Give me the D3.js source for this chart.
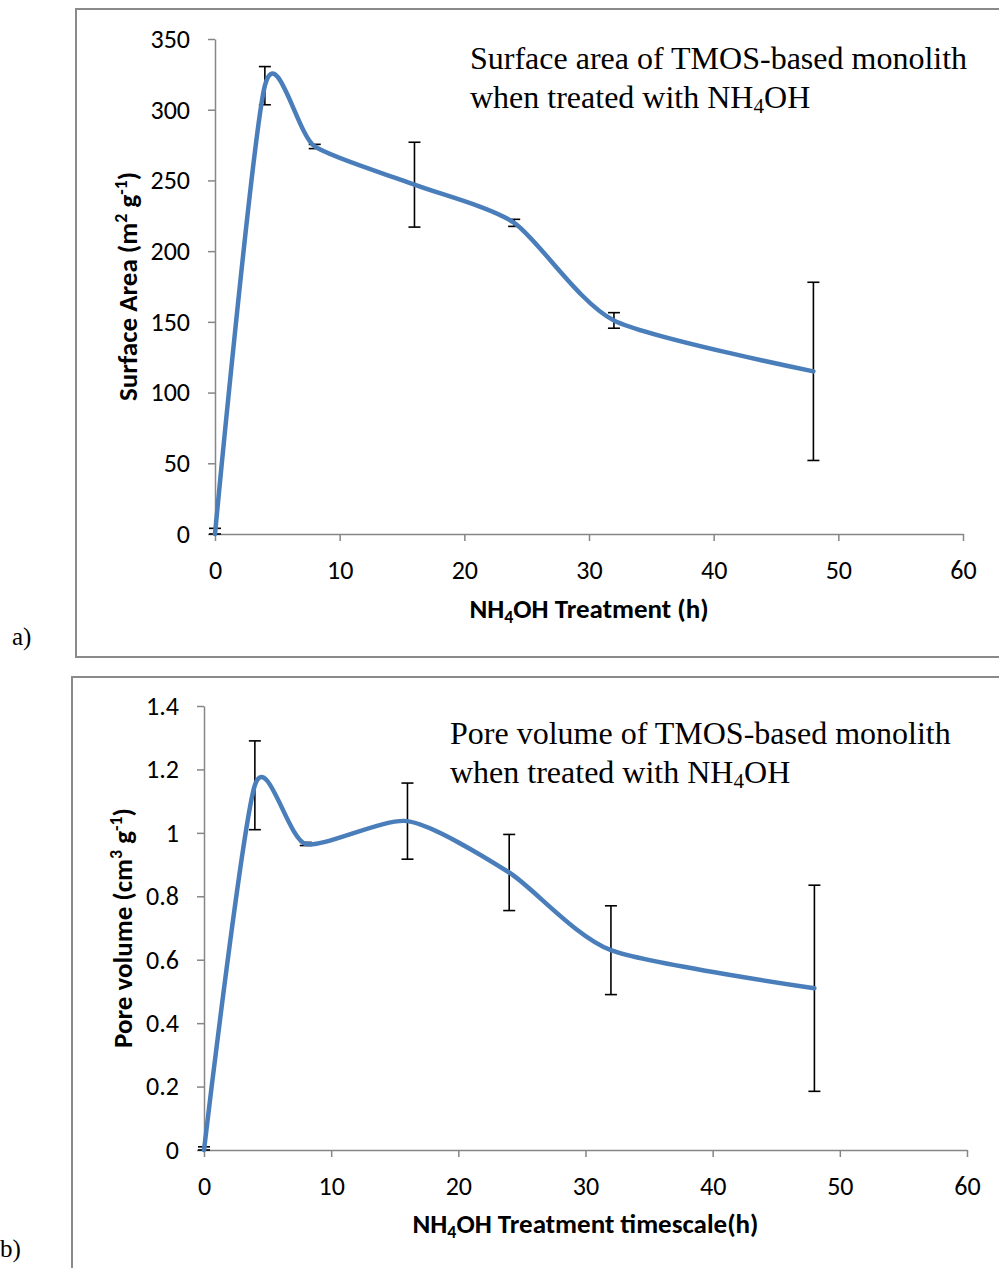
<!DOCTYPE html>
<html>
<head>
<meta charset="utf-8">
<script src="https://cdn.jsdelivr.net/npm/d3@7"></script>
<style>
  body { margin: 0; background: #fff; }
  svg { display: block; }
</style>
</head>
<body>
<div id="chart"></div>
<script>
// Treatment times (h), shared by both panels
var hours = [0, 4, 8, 16, 24, 32, 48];

// Panel a) surface area (m2/g) and its error
var surfaceArea = [0, 317, 274, 247, 220, 151, 115];
var surfaceAreaErr = [4, 13.5, 1.5, 30, 2.5, 5.5, 63];

// Panel b) pore volume (cm3/g) and its error
var poreVolume = [0, 1.15, 0.965, 1.037, 0.875, 0.63, 0.51];
var poreVolumeErr = [0.01, 0.14, 0.005, 0.12, 0.12, 0.14, 0.325];

// Tick values
var xTicks = [0, 10, 20, 30, 40, 50, 60];
var surfaceTicks = [0, 50, 100, 150, 200, 250, 300, 350];
var poreTicks = [0, 0.2, 0.4, 0.6, 0.8, 1, 1.2, 1.4];

var sans = "Carlito, Calibri, Lato, sans-serif";
var serif = "'Liberation Serif', 'Times New Roman', serif";

var svg = d3.select("#chart").append("svg")
    .attr("width", 999)
    .attr("height", 1268);

svg.append("rect").attr("width", 999).attr("height", 1268).attr("fill", "#fff");

// write text made of plain / subscript / superscript pieces
function richText(sel, parts) {
    var offset = 0;
    parts.forEach(function(p) {
        var shift = p.sub ? 5 : (p.sup ? -10 : 0);
        var ts = sel.append("tspan").text(p.t).attr("dy", shift - offset);
        if (p.sub || p.sup) ts.style("font-size", "0.66em");
        offset = shift;
    });
}

function drawPanel(cfg) {
    // frame around the panel
    svg.append("rect")
        .attr("x", cfg.frame[0]).attr("y", cfg.frame[1])
        .attr("width", cfg.frame[2]).attr("height", cfg.frame[3])
        .attr("fill", "none")
        .attr("stroke", "#8a8a8a")
        .attr("stroke-width", 2);

    svg.append("text")
        .attr("x", cfg.label[0]).attr("y", cfg.label[1])
        .style("font-family", serif).style("font-size", "25px")
        .text(cfg.label[2]);

    var x = d3.scaleLinear().domain([0, 60]).range([cfg.left, cfg.right]);
    var y = d3.scaleLinear().domain(cfg.yDomain).range([cfg.bottom, cfg.top]);

    var xAxis = svg.append("g")
        .attr("transform", "translate(0," + cfg.bottom + ")")
        .call(d3.axisBottom(x).tickValues(xTicks).tickSize(7).tickSizeOuter(0).tickPadding(20));
    var yAxis = svg.append("g")
        .attr("transform", "translate(" + cfg.left + ",0)")
        .call(d3.axisLeft(y).tickValues(cfg.yTicks).tickSize(7).tickSizeOuter(0).tickPadding(18)
            .tickFormat(function(d) { return String(+d.toFixed(1)); }));

    [xAxis, yAxis].forEach(function(a) {
        a.selectAll(".domain, .tick line").attr("stroke", "#868686").attr("stroke-width", 1.5);
        a.selectAll("text").style("font-family", sans).style("font-size", "26px").attr("fill", "#000");
    });

    // error bars
    var bars = svg.append("g").attr("stroke", "#000").attr("stroke-width", 1.6);
    hours.forEach(function(h, i) {
        var hi = y(cfg.values[i] + cfg.errs[i]);
        var lo = y(Math.max(0, cfg.values[i] - cfg.errs[i]));
        bars.append("line").attr("x1", x(h)).attr("x2", x(h)).attr("y1", hi).attr("y2", lo);
        bars.append("line").attr("x1", x(h) - 6).attr("x2", x(h) + 6).attr("y1", hi).attr("y2", hi);
        bars.append("line").attr("x1", x(h) - 6).attr("x2", x(h) + 6).attr("y1", lo).attr("y2", lo);
    });

    // smoothed series line
    var line = d3.line()
        .x(function(d, i) { return x(hours[i]); })
        .y(function(d) { return y(d); })
        .curve(d3.curveCardinal.tension(0.3));
    svg.append("path")
        .datum(cfg.values)
        .attr("d", line)
        .attr("fill", "none")
        .attr("stroke", "#4a7ebb")
        .attr("stroke-width", 4.5)
        .attr("stroke-linecap", "round");

    // titles inside the plot
    cfg.title.forEach(function(parts, k) {
        var t = svg.append("text")
            .attr("x", cfg.titlePos[0]).attr("y", cfg.titlePos[1] + k * 39)
            .style("font-family", serif).style("font-size", "32px");
        richText(t, parts);
    });

    var xt = svg.append("text")
        .attr("x", (cfg.left + cfg.right) / 2).attr("y", cfg.xTitleY)
        .attr("text-anchor", "middle")
        .style("font-family", sans).style("font-size", "27px").style("font-weight", "bold");
    richText(xt, cfg.xTitle);

    var yt = svg.append("text")
        .attr("transform", "translate(" + cfg.yTitleX + "," + (cfg.top + cfg.bottom) / 2 + ") rotate(-90)")
        .attr("text-anchor", "middle")
        .style("font-family", sans).style("font-size", "27px").style("font-weight", "bold");
    richText(yt, cfg.yTitle);
}

drawPanel({
    frame: [76, 9, 1000, 648],
    label: [12, 645, "a)"],
    left: 215, right: 963, top: 39, bottom: 534,
    yDomain: [0, 350], yTicks: surfaceTicks,
    values: surfaceArea, errs: surfaceAreaErr,
    titlePos: [470, 69],
    title: [
        [{ t: "Surface area of TMOS-based monolith" }],
        [{ t: "when treated with NH" }, { t: "4", sub: true }, { t: "OH" }]
    ],
    xTitleY: 618,
    xTitle: [{ t: "NH" }, { t: "4", sub: true }, { t: "OH Treatment (h)" }],
    yTitleX: 137,
    yTitle: [{ t: "Surface Area (m" }, { t: "2", sup: true }, { t: " g" }, { t: "-1", sup: true }, { t: ")" }]
});

drawPanel({
    frame: [72, 677, 1000, 700],
    label: [0, 1257, "b)"],
    left: 204, right: 967, top: 706, bottom: 1150,
    yDomain: [0, 1.4], yTicks: poreTicks,
    values: poreVolume, errs: poreVolumeErr,
    titlePos: [450, 744],
    title: [
        [{ t: "Pore volume of TMOS-based monolith" }],
        [{ t: "when treated with NH" }, { t: "4", sub: true }, { t: "OH" }]
    ],
    xTitleY: 1233,
    xTitle: [{ t: "NH" }, { t: "4", sub: true }, { t: "OH Treatment timescale(h)" }],
    yTitleX: 132,
    yTitle: [{ t: "Pore volume (cm" }, { t: "3", sup: true }, { t: " g" }, { t: "-1", sup: true }, { t: ")" }]
});
</script>
</body>
</html>
